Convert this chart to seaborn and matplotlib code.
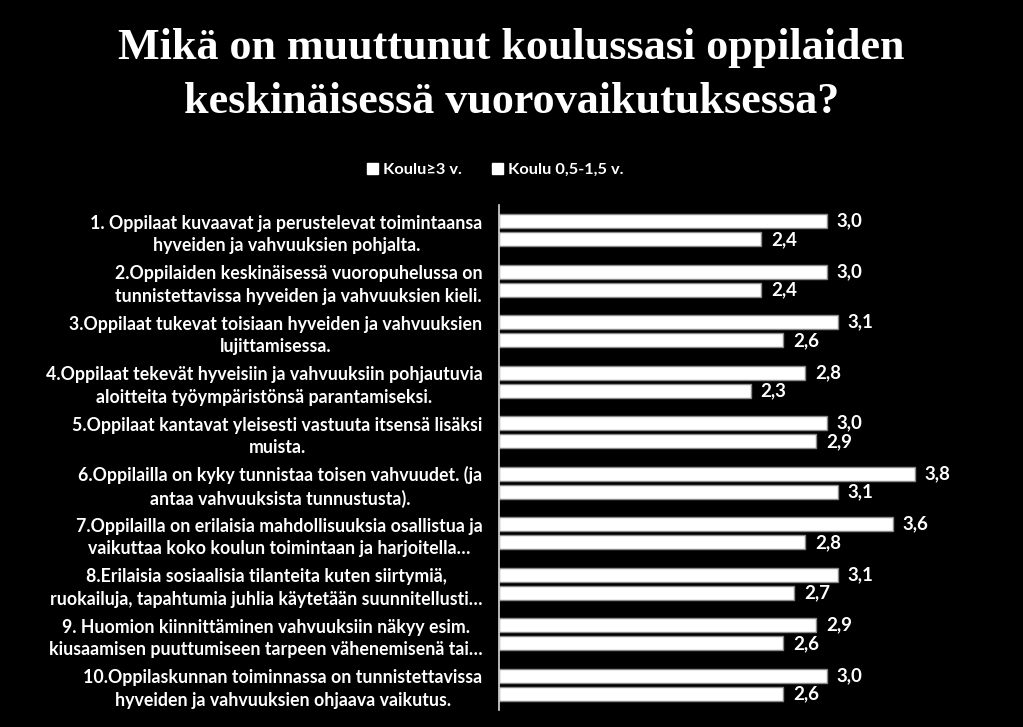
import pandas as pd
import numpy as np
import matplotlib.pyplot as plt
import seaborn as sns
from matplotlib.patches import Patch

# kysymykset (rivitetty kuten alkuperäisessä kuvassa)
kysymykset = [
    "1. Oppilaat kuvaavat ja perustelevat toimintaansa\nhyveiden ja vahvuuksien pohjalta.",
    "2.Oppilaiden keskinäisessä vuoropuhelussa on\ntunnistettavissa hyveiden ja vahvuuksien kieli.",
    "3.Oppilaat tukevat toisiaan hyveiden ja vahvuuksien\nlujittamisessa.",
    "4.Oppilaat tekevät hyveisiin ja vahvuuksiin pohjautuvia\naloitteita työympäristönsä parantamiseksi.",
    "5.Oppilaat kantavat yleisesti vastuuta itsensä lisäksi\nmuista.",
    "6.Oppilailla on kyky tunnistaa toisen vahvuudet. (ja\nantaa vahvuuksista tunnustusta).",
    "7.Oppilailla on erilaisia mahdollisuuksia osallistua ja\nvaikuttaa koko koulun toimintaan ja harjoitella…",
    "8.Erilaisia sosiaalisia tilanteita kuten siirtymiä,\nruokailuja, tapahtumia juhlia käytetään suunnitellusti…",
    "9. Huomion kiinnittäminen vahvuuksiin näkyy esim.\nkiusaamisen puuttumiseen tarpeen vähenemisenä tai…",
    "10.Oppilaskunnan toiminnassa on tunnistettavissa\nhyveiden ja vahvuuksien ohjaava vaikutus.",
]
ryhmat = ["Koulu≥3 v.", "Koulu 0,5-1,5 v."]
koulu_3v = [3.0, 3.0, 3.1, 2.8, 3.0, 3.8, 3.6, 3.1, 2.9, 3.0]
koulu_05v = [2.4, 2.4, 2.6, 2.3, 2.9, 3.1, 2.8, 2.7, 2.6, 2.6]

df = pd.DataFrame({
    "kysymys": kysymykset * 2,
    "ryhma": [ryhmat[0]] * len(kysymykset) + [ryhmat[1]] * len(kysymykset),
    "arvo": koulu_3v + koulu_05v,
})

sns.set_style("dark")
plt.rcParams["font.family"] = ["Lato", "DejaVu Sans"]
plt.rcParams["font.weight"] = "bold"

fig = plt.figure(figsize=(10.23, 7.27), dpi=100, facecolor="black")
ax = fig.add_axes([499 / 1023, 1 - 710 / 727, (1013 - 499) / 1023, (710 - 205) / 727])
ax.set_facecolor("black")

sns.barplot(data=df, y="kysymys", x="arvo", hue="ryhma", hue_order=ryhmat,
            order=kysymykset, orient="h", palette=["white", "white"],
            width=0.72, gap=0.22, edgecolor="#8a8a8a", linewidth=1.0,
            errorbar=None, legend=False, ax=ax)

ax.set_xlim(0, 4.7)
ax.set_ylim(9.5, -0.5)
ax.set_xlabel("")
ax.set_ylabel("")
ax.set_xticks([])
ax.grid(False)
for s in ["top", "right", "bottom"]:
    ax.spines[s].set_visible(False)
ax.spines["left"].set_color("#d9d9d9")
ax.spines["left"].set_linewidth(1.2)

ax.tick_params(axis="y", length=0, pad=12, labelcolor="white", labelsize=12.8)
for lbl in ax.get_yticklabels():
    lbl.set_multialignment("center")
    lbl.set_fontweight("bold")
    lbl.set_linespacing(1.38)

for cont in ax.containers:
    ax.bar_label(cont, labels=[f"{v:.1f}".replace(".", ",") for v in cont.datavalues],
                 padding=7, color="white", fontsize=13.5, fontweight="bold")

fig.legend(handles=[Patch(facecolor="white", edgecolor="white", label=r) for r in ryhmat],
           loc="center", bbox_to_anchor=(0.484, 1 - 170 / 727), ncol=2, frameon=False,
           handlelength=0.7, handleheight=0.7, handletextpad=0.3, columnspacing=1.8,
           labelcolor="white", prop={"family": ["Lato", "DejaVu Sans"], "weight": "bold", "size": 11.8})

fig.text(0.5, 1 - 75 / 727,
         "Mikä on muuttunut koulussasi oppilaiden\nkeskinäisessä vuorovaikutuksessa?",
         ha="center", va="center", color="white", fontsize=31.8, fontweight="bold",
         family="Liberation Serif", linespacing=1.42)

fig.savefig("out.png", dpi=100, facecolor="black")
